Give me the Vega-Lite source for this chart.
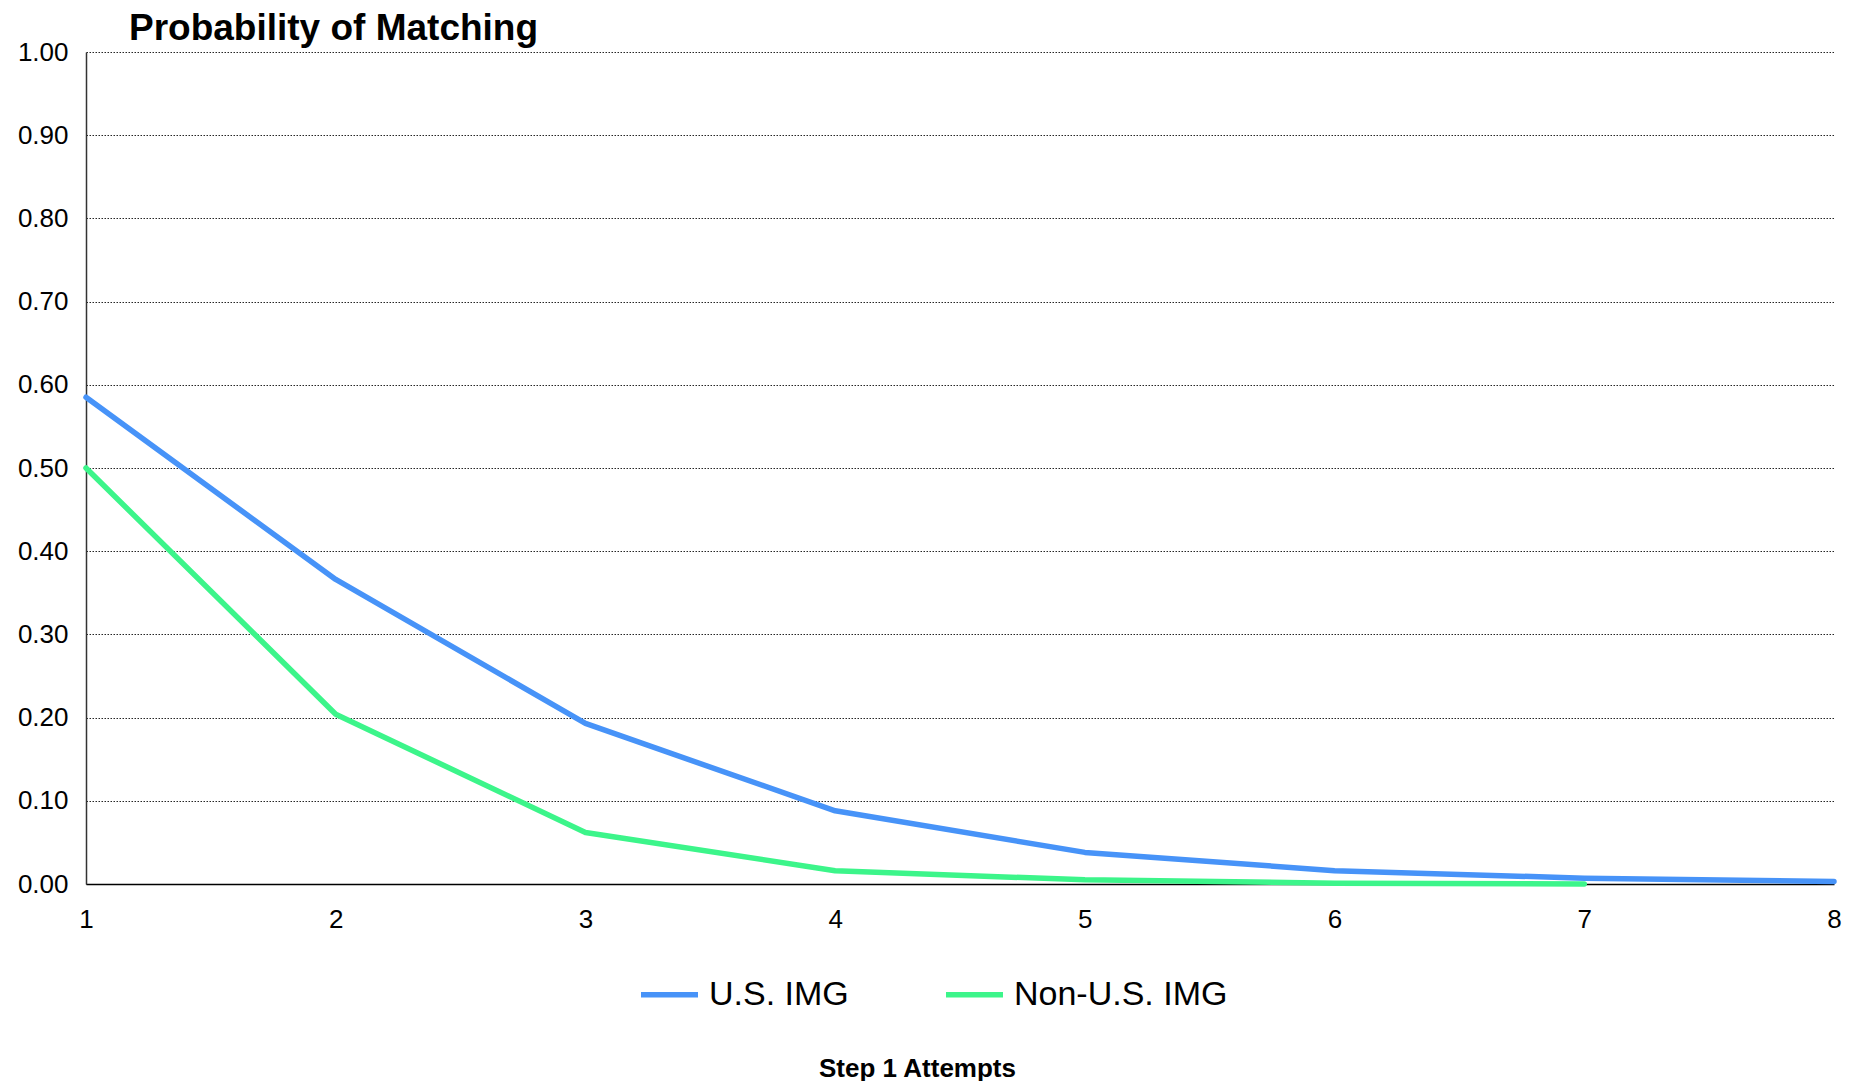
{
  "$schema": "https://vega.github.io/schema/vega-lite/v6.json",
  "width": 1748,
  "height": 832,
  "autosize": {"type": "none"},
  "padding": {"left": 86, "top": 52, "right": 17, "bottom": 197},
  "background": "white",
  "title": {
    "text": "Probability of Matching",
    "anchor": "start",
    "frame": "group",
    "dx": 43,
    "offset": -9,
    "font": "Liberation Sans",
    "fontSize": 37,
    "fontWeight": "bold",
    "color": "#000000"
  },
  "data": {
    "values": [
      {"attempts": 1, "group": "U.S. IMG", "p": 0.585},
      {"attempts": 2, "group": "U.S. IMG", "p": 0.366},
      {"attempts": 3, "group": "U.S. IMG", "p": 0.193},
      {"attempts": 4, "group": "U.S. IMG", "p": 0.088},
      {"attempts": 5, "group": "U.S. IMG", "p": 0.038},
      {"attempts": 6, "group": "U.S. IMG", "p": 0.016},
      {"attempts": 7, "group": "U.S. IMG", "p": 0.007},
      {"attempts": 8, "group": "U.S. IMG", "p": 0.003},
      {"attempts": 1, "group": "Non-U.S. IMG", "p": 0.5},
      {"attempts": 2, "group": "Non-U.S. IMG", "p": 0.204},
      {"attempts": 3, "group": "Non-U.S. IMG", "p": 0.062},
      {"attempts": 4, "group": "Non-U.S. IMG", "p": 0.016},
      {"attempts": 5, "group": "Non-U.S. IMG", "p": 0.005},
      {"attempts": 6, "group": "Non-U.S. IMG", "p": 0.001},
      {"attempts": 7, "group": "Non-U.S. IMG", "p": 0.0}
    ]
  },
  "mark": {"type": "line", "strokeWidth": 5.5, "strokeCap": "round", "strokeJoin": "round"},
  "encoding": {
    "x": {
      "field": "attempts",
      "type": "quantitative",
      "scale": {"domain": [1, 8], "nice": false, "zero": false},
      "axis": {
        "title": "Step 1 Attempts",
        "values": [1, 2, 3, 4, 5, 6, 7, 8],
        "format": "d",
        "grid": false,
        "ticks": false,
        "labelFlush": false,
        "labelPadding": 22,
        "labelFont": "Liberation Sans",
        "labelFontSize": 26,
        "labelColor": "#000000",
        "domainColor": "#000000",
        "domainWidth": 1.5,
        "titleFont": "Liberation Sans",
        "titleFontSize": 26,
        "titleFontWeight": "bold",
        "titleColor": "#000000",
        "titlePadding": 123,
        "titleX": 831
      }
    },
    "y": {
      "field": "p",
      "type": "quantitative",
      "scale": {"domain": [0, 1], "nice": false},
      "axis": {
        "title": null,
        "values": [0, 0.1, 0.2, 0.3, 0.4, 0.5, 0.6, 0.7, 0.8, 0.9, 1.0],
        "format": ".2f",
        "ticks": false,
        "labelPadding": 18,
        "labelFont": "Liberation Sans",
        "labelFontSize": 26,
        "labelColor": "#000000",
        "domainColor": "#333333",
        "domainWidth": 1.5,
        "grid": true,
        "gridColor": "#000000",
        "gridWidth": 1,
        "gridDash": [1.5, 1.5],
        "gridOpacity": 0.85
      }
    },
    "color": {
      "field": "group",
      "type": "nominal",
      "scale": {"domain": ["U.S. IMG", "Non-U.S. IMG"], "range": ["#4793F8", "#3CF58A"]},
      "legend": {
        "title": null,
        "orient": "none",
        "direction": "horizontal",
        "legendX": 552,
        "legendY": 911,
        "symbolType": "stroke",
        "symbolSize": 3249,
        "symbolStrokeWidth": 5.5,
        "labelFont": "Liberation Sans",
        "labelFontSize": 34,
        "labelColor": "#000000",
        "labelLimit": 0,
        "labelOffset": 8,
        "columnPadding": 86
      }
    },
    "order": {"field": "attempts", "type": "quantitative"}
  },
  "config": {
    "view": {"stroke": null}
  }
}
